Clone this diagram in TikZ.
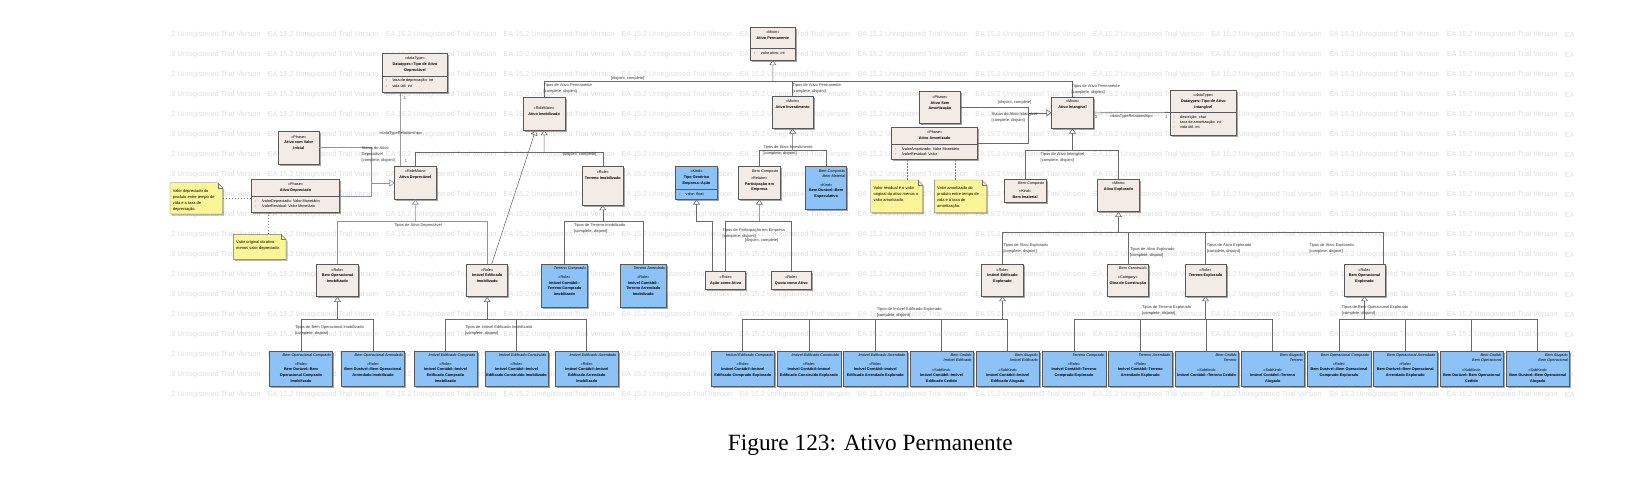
\documentclass[tikz,border=0pt]{standalone}
\usepackage{fontspec}
\setmainfont{Liberation Serif}
\setsansfont{Liberation Sans}
\usepackage{tikz}
\usetikzlibrary{arrows.meta,calc,positioning,fit,shadows}
\definecolor{clsfill}{RGB}{242,235,230}
\definecolor{kindfill}{RGB}{140,194,246}
\definecolor{notefill}{RGB}{250,245,150}
\definecolor{linegray}{RGB}{105,105,105}
\definecolor{lineblue}{RGB}{135,145,190}
\definecolor{wmgray}{RGB}{222,222,222}
\newcommand{\stereo}[1]{{\mdseries«#1»}\\}
\newcommand{\attrline}[1]{\makebox[6.7pt][l]{-}#1}
% box: id, x1, y1, x2, y2, style, text offset, text
\newcommand{\umlbox}[8]{%
  \node[#6, fit={(#2,#3) (#4,#5)}] (#1) {};
  \node[boxtext, below=#7pt of #1.north] (#1-t) {#8};
}
% attribute part: id, x1, x2, y of divider, attributes
\newcommand{\umlattr}[5]{%
  \draw[black!65, line width=0.45pt] (#2,#4) -- (#3,#4);
  \node[attrtext, anchor=north west] (#1-a) at ({#2+3.3},{#4+3}) {#5};
}
\newcommand{\umltag}[2]{%
  \node[tagtext, anchor=north east] (#1-g) at ([shift={(-1.7pt,-2.8pt)}]#1.north east) {#2};
}
% note: id, x1, y1, x2, y2, text
\newcommand{\umlnote}[6]{%
  \filldraw[notebox] (#2,#3) -- ({#4-5},#3) -- (#4,{#3+5}) -- (#4,#5) -- (#2,#5) -- cycle;
  \draw[black!55, line width=0.4pt] ({#4-5},#3) -- ({#4-5},{#3+5}) -- (#4,{#3+5});
  \node[fit={(#2,#3) (#4,#5)}, inner sep=0pt] (#1) {};
  \node[notetext, anchor=north west] (#1-t) at ({#2+2.7},{#3+6.3}) {#6};
}
\tikzset{
  clsbox/.style={draw=black!65, line width=0.45pt, fill=clsfill, inner sep=0pt,
    drop shadow={shadow xshift=1.5pt, shadow yshift=-1.5pt, opacity=0.5, fill=black!70}},
  kindbox/.style={clsbox, fill=kindfill},
  boxtext/.style={font=\sffamily\bfseries\fontsize{3.8}{5.6}\selectfont, align=center, inner sep=0pt},
  attrtext/.style={font=\sffamily\fontsize{3.8}{5.3}\selectfont, align=left, inner sep=0pt},
  tagtext/.style={font=\sffamily\itshape\fontsize{3.8}{5.4}\selectfont, align=right, inner sep=0pt},
  lbl/.style={font=\sffamily\fontsize{4}{6}\selectfont, align=left, inner sep=0pt, text=black!80},
  notetext/.style={font=\sffamily\fontsize{4}{6}\selectfont, align=left, inner sep=0pt},
  notebox/.style={draw=black!55, line width=0.4pt, fill=notefill,
    drop shadow={shadow xshift=1.5pt, shadow yshift=-1.5pt, opacity=0.4, fill=black!70}},
  conn/.style={draw=linegray, line width=0.55pt},
  gen/.style={conn, -{Triangle[open, fill=white, length=5pt, width=7pt]}},
  bconn/.style={conn, draw=lineblue},
  bgen/.style={gen, draw=lineblue},
  notelink/.style={draw=black!50, line width=0.4pt, dash pattern=on 1.5pt off 1.5pt},
  wmark/.style={font=\sffamily\fontsize{7.2}{8}\selectfont, text=wmgray, inner sep=0pt},
  caption/.style={font=\fontsize{23.3}{28}\selectfont, inner sep=0pt}
}
\begin{document}
\begin{tikzpicture}[x=1pt,y=-1pt]
  \useasboundingbox (0,0) rectangle (1652,480);
  % trial version watermark
  \foreach \r in {0,...,18}{
    \node[wmark, anchor=west] (wm-\r-0) at (169.4,{35+20*\r}) {.2 Unregistered Trial Version};
    \foreach \c in {1,...,11}{
      \node[wmark, anchor=west] (wm-\r-\c) at ({149.8+117.9*\c},{35+20*\r}) {EA 15.2 Unregistered Trial Version};
    }
    \node[wmark, anchor=west] (wm-\r-12) at (1564.6,{35+20*\r}) {EA};
  }

  % upper classes
  \umlbox{dtdep}{382.3}{53.3}{447.7}{92.3}{clsbox}{3.9}{\stereo{dataType}Datatypes::Tipo de Ativo\\Depreciável}
  \umlattr{dtdep}{382.3}{447.7}{76}{\attrline{taxa de depreciação: int}\\\attrline{vida útil: int}}
  \umlbox{aperm}{750.7}{27.3}{795}{60}{clsbox}{3.5}{\stereo{Mixin}Ativo Permanente}
  \umlattr{aperm}{750.7}{795}{48.3}{\attrline{valor ativo: int}}
  \umlbox{aimob}{523.3}{97.3}{565}{130}{clsbox}{9.9}{\stereo{RoleMixin}Ativo Imobilizado}
  \umlbox{ainv}{772}{96.7}{813.3}{128.3}{clsbox}{3.1}{\stereo{Mixin}Ativo Investimento}
  \umlbox{aint}{1051.7}{97.3}{1093.3}{128.3}{clsbox}{2.9}{\stereo{Mixin}Ativo Intangível}
  \umlbox{dtint}{1170}{90}{1236.7}{135}{clsbox}{4.2}{\stereo{dataType}Datatypes::Tipo de Ativo\\Intangível}
  \umlattr{dtint}{1170}{1236.7}{112.3}{\attrline{descrição: char}\\\attrline{taxa de amortização: int}\\\attrline{vida útil: int}}
  \umlbox{asa}{919.3}{91}{960.7}{123.3}{clsbox}{4.8}{\stereo{Phase}Ativo Sem\\Amortização}
  \umlbox{aam}{891.7}{127.7}{977.7}{159.3}{clsbox}{3.1}{\stereo{Phase}Ativo Amortizado}
  \umlattr{aam}{891.7}{977.7}{144}{\attrline{/valorAmortizado: Valor Monetário}\\\attrline{/valorResidual: Valor}}
  \umlbox{avi}{278.7}{131}{319}{164}{clsbox}{4.5}{\stereo{Phase}Ativo com Valor\\Inicial}
  \umlbox{adepd}{251.7}{179.3}{339.3}{212.7}{clsbox}{3.9}{\stereo{Phase}Ativo Depreciado}
  \umlattr{adepd}{251.7}{339.3}{196}{\attrline{/valorDepreciado: Valor Monetário}\\\attrline{/valorResidual: Valor Monetário}}
  \umlbox{adep}{394.7}{166.7}{436}{199.3}{clsbox}{3.5}{\stereo{RoleMixin}Ativo Depreciável}
  \umlbox{timob}{582.3}{166.7}{623.3}{205}{clsbox}{4.1}{\stereo{Role}Terreno Imobilizado}
  \umlbox{tge}{675.5}{166.7}{717.5}{199.3}{kindbox}{3.5}{\stereo{Kind}Tipo Genérico\\Empresa::Ação}
  \umlattr{tge}{675.5}{717.5}{189.3}{\attrline{valor: float}}
  \umlbox{part}{738.7}{166.7}{780}{199.3}{clsbox}{10.1}{\stereo{Relator}Participação em\\Empresa}
  \umltag{part}{Bem Composto}
  \umlbox{besp}{805.7}{166.7}{846.7}{209.3}{kindbox}{16.8}{\stereo{Kind}Bem Durável::Bem\\Especulativo}
  \umltag{besp}{Bem Composto\\Bem Material}
  \umlbox{bimat}{1004.3}{179}{1046}{202}{clsbox}{11.2}{\stereo{Kind}Bem Imaterial}
  \umltag{bimat}{Bem Composto}
  \umlbox{aexp}{1097.7}{179}{1139.3}{211.7}{clsbox}{3.2}{\stereo{Mixin}Ativo Explorado}

  % middle row
  \umlbox{bopi}{316.7}{264.3}{358.3}{296.7}{clsbox}{4.2}{\stereo{Role}Bem Operacional\\Imobilizado}
  \umlbox{iedi}{466.7}{264.3}{507.7}{296.7}{clsbox}{4.2}{\stereo{Role}Imóvel Edificado\\Imobilizado}
  \umlbox{tcomp}{541.7}{264.3}{587.3}{307.7}{kindbox}{11.5}{\stereo{Role}Imóvel Contábil::\\Terreno Comprado\\Imobilizado}
  \umltag{tcomp}{Terreno Comprado}
  \umlbox{tarr}{620}{264.3}{666.7}{307.7}{kindbox}{11.5}{\stereo{Role}Imóvel Contábil::\\Terreno Arrendado\\Imobilizado}
  \umltag{tarr}{Terreno Arrendado}
  \umlbox{acao}{705.7}{271.7}{745.7}{289.3}{clsbox}{4.1}{\stereo{Role}Ação como Ativo}
  \umlbox{quota}{771}{271.7}{811.7}{289.3}{clsbox}{4.1}{\stereo{Role}Quota como Ativo}
  \umlbox{iedx}{981.7}{264.3}{1023.3}{296}{clsbox}{4.2}{\stereo{Role}Imóvel Edificado\\Explorado}
  \umlbox{obra}{1107.3}{264.3}{1148.3}{296}{clsbox}{11.5}{\stereo{Category}Obra de Construção}
  \umltag{obra}{Bem Construído}
  \umlbox{texp}{1185}{264.3}{1226}{296}{clsbox}{4.2}{\stereo{Role}Terreno Explorado}
  \umlbox{bopx}{1344}{264.3}{1385}{296}{clsbox}{4.2}{\stereo{Role}Bem Operacional\\Explorado}

  % bottom row, imobilizado
  \umlbox{bopic}{269.5}{351}{332.5}{386.7}{kindbox}{11.5}{\stereo{Role}Bem Durável::Bem\\Operacional Comprado\\Imobilizado}
  \umltag{bopic}{Bem Operacional Comprado}
  \umlbox{bopia}{341.5}{351}{404.5}{386.7}{kindbox}{11.5}{\stereo{Role}Bem Durável::Bem Operacional\\Arrendado Imobilizado}
  \umltag{bopia}{Bem Operacional Arrendado}
  \umlbox{iedic}{414}{351}{477}{386.7}{kindbox}{11.5}{\stereo{Role}Imóvel Contábil::Imóvel\\Edificado Comprado\\Imobilizado}
  \umltag{iedic}{Imóvel Edificado Comprado}
  \umlbox{iedin}{485}{351}{548}{386.7}{kindbox}{11.5}{\stereo{Role}Imóvel Contábil::Imóvel\\Edificado Construído Imobilizado}
  \umltag{iedin}{Imóvel Edificado Construído}
  \umlbox{iedia}{555.5}{351}{618}{386.7}{kindbox}{11.5}{\stereo{Role}Imóvel Contábil::Imóvel\\Edificado Arrendado\\Imobilizado}
  \umltag{iedia}{Imóvel Edificado Arrendado}

  % bottom row, explorado
  \umlbox{iedxc}{711}{351}{774.5}{386.7}{kindbox}{11.5}{\stereo{Role}Imóvel Contábil::Imóvel\\Edificado Comprado Explorado}
  \umltag{iedxc}{Imóvel Edificado Comprado}
  \umlbox{iedxn}{777.25}{351}{840.75}{386.7}{kindbox}{11.5}{\stereo{Role}Imóvel Contábil::Imóvel\\Edificado Construído Explorado}
  \umltag{iedxn}{Imóvel Edificado Construído}
  \umlbox{iedxa}{843.5}{351}{907}{386.7}{kindbox}{11.5}{\stereo{Role}Imóvel Contábil::Imóvel\\Edificado Arrendado Explorado}
  \umltag{iedxa}{Imóvel Edificado Arrendado}
  \umlbox{iedxce}{909.75}{351}{973.25}{386.7}{kindbox}{17.5}{\stereo{SubKind}Imóvel Contábil::Imóvel\\Edificado Cedido}
  \umltag{iedxce}{Bem Cedido\\Imóvel Edificado}
  \umlbox{iedxal}{976}{351}{1039.5}{386.7}{kindbox}{17.5}{\stereo{SubKind}Imóvel Contábil::Imóvel\\Edificado Alugado}
  \umltag{iedxal}{Bem Alugado\\Imóvel Edificado}
  \umlbox{texc}{1042.25}{351}{1105.75}{386.7}{kindbox}{11.5}{\stereo{Role}Imóvel Contábil::Terreno\\Comprado Explorado}
  \umltag{texc}{Terreno Comprado}
  \umlbox{texa}{1108.5}{351}{1172}{386.7}{kindbox}{11.5}{\stereo{Role}Imóvel Contábil::Terreno\\Arrendado Explorado}
  \umltag{texa}{Terreno Arrendado}
  \umlbox{texce}{1174.75}{351}{1238.25}{386.7}{kindbox}{17.5}{\stereo{SubKind}Imóvel Contábil::Terreno Cedido}
  \umltag{texce}{Bem Cedido\\Terreno}
  \umlbox{texal}{1241}{351}{1304.5}{386.7}{kindbox}{17.5}{\stereo{SubKind}Imóvel Contábil::Terreno\\Alugado}
  \umltag{texal}{Bem Alugado\\Terreno}
  \umlbox{bopxc}{1307.25}{351}{1370.75}{386.7}{kindbox}{11.5}{\stereo{Role}Bem Durável::Bem Operacional\\Comprado Explorado}
  \umltag{bopxc}{Bem Operacional Comprado}
  \umlbox{bopxa}{1373.5}{351}{1437}{386.7}{kindbox}{11.5}{\stereo{Role}Bem Durável::Bem Operacional\\Arrendado Explorado}
  \umltag{bopxa}{Bem Operacional Arrendado}
  \umlbox{bopxce}{1439.75}{351}{1503.25}{386.7}{kindbox}{17.5}{\stereo{SubKind}Bem Durável::Bem Operacional\\Cedido}
  \umltag{bopxce}{Bem Cedido\\Bem Operacional}
  \umlbox{bopxal}{1506}{351}{1569.5}{386.7}{kindbox}{17.5}{\stereo{SubKind}Bem Durável::Bem Operacional\\Alugado}
  \umltag{bopxal}{Bem Alugado\\Bem Operacional}

  % notes
  \umlnote{nd1}{170}{182.7}{222.7}{214}{Valor depreciado do\\produto entre tempo de\\vida e a taxa de\\depreciação.}
  \umlnote{nd2}{233.3}{234.3}{286}{259.3}{Valor original do ativo\\menos valor depreciado.}
  \umlnote{na1}{870.7}{180}{922.7}{212.7}{Valor residual é o valor\\original do ativo menos o\\valor amortizado.}
  \umlnote{na2}{934.3}{180}{986.7}{212.7}{Valor amortizado do\\produto entre tempo de\\vida e a taxa de\\amortização.}
  \draw[notelink] (nd1.east) -- (nd1.east -| adepd.west);
  \coordinate (nd2top) at ([xshift=8.7pt]nd2.north);
  \draw[notelink] (nd2top) -- (nd2top |- adepd.south);
  \coordinate (na1top) at ([xshift=10pt]na1.north);
  \draw[notelink] (na1top) -- (na1top |- aam.south);
  \coordinate (na2top) at ([xshift=-5.5pt]na2.north);
  \draw[notelink] (na2top) -- (na2top |- aam.south);

  % generalization sets
  \coordinate (apj) at (772.85,81.7);
  \draw[conn] (aimob.north) |- (apj);
  \draw[conn] (aint.north) |- (apj);
  \draw[conn] (ainv.north) |- (apj);
  \draw[gen] (apj) -- (aperm.south);

  \coordinate (aimj) at (544.2,152.7);
  \draw[conn] (adep.north) |- (aimj);
  \draw[conn] (timob.north) |- (aimj);
  \draw[gen] (aimj) -- (aimob.south);
  \draw[gen] ([xshift=4.5pt]iedi.north) -- ([xshift=-8.5pt]aimob.south);

  \coordinate (aivj) at (792.7,150.7);
  \draw[conn] (part.north) |- (aivj);
  \draw[conn] (besp.north) |- (aivj);
  \draw[gen] (aivj) -- (ainv.south);

  \coordinate (aitj) at (1072.5,150.7);
  \draw[conn] (bimat.north) |- (aitj);
  \draw[conn] (aexp.north) |- (aitj);
  \draw[gen] (aitj) -- (aint.south);

  \coordinate (sij) at (1028.3,112.8);
  \draw[conn] (asa.east) -| (sij);
  \draw[conn] (aam.east) -| (sij);
  \draw[gen] (sij) -- (aint.west);
  \draw[conn] (aint.east) -- (dtint.west);
  \draw[conn] ([xshift=-14.7pt]dtdep.south) -- ([xshift=-14.95pt]adep.north);

  \coordinate (sdj) at (371.7,183);
  \draw[bconn] (avi.east) -| (sdj);
  \draw[bconn] (adepd.east) -| (sdj);
  \draw[bgen] (sdj) -- (adep.west);

  \coordinate (adpj) at (415.35,221.7);
  \draw[bconn] (bopi.north) |- (adpj);
  \draw[bconn] (iedi.north) |- (adpj);
  \draw[bgen] (adpj) -- (adep.south);

  \coordinate (timj) at (602.8,221.7);
  \draw[conn] (tcomp.north) |- (timj);
  \draw[conn] (tarr.north) |- (timj);
  \draw[gen] (timj) -- (timob.south);

  \coordinate (tgj) at (696.5,221.7);
  \draw[gen] ([xshift=-13pt]acao.north) |- (tgj) -- (tge.south);
  \coordinate (pej) at (759.35,221.7);
  \draw[conn] (acao.north) |- (pej);
  \draw[conn] (quota.north) |- (pej);
  \draw[gen] (pej) -- (part.south);

  \coordinate (aexj) at (1118.5,232.7);
  \draw[conn] (iedx.north) |- (aexj);
  \draw[conn] (obra.north) |- (aexj);
  \draw[conn] (texp.north) |- (aexj);
  \draw[conn] ([xshift=-1.7pt]bopx.north east) |- (aexj);
  \draw[gen] (aexj) -- (aexp.south);

  \coordinate (bopij) at (337.5,319.3);
  \draw[conn] (bopic.north) |- (bopij);
  \draw[conn] (bopia.north) |- (bopij);
  \draw[gen] (bopij) -- (bopi.south);
  \coordinate (iedij) at (487.2,319.3);
  \draw[conn] (iedic.north) |- (iedij);
  \draw[conn] (iedin.north) |- (iedij);
  \draw[conn] (iedia.north) |- (iedij);
  \draw[gen] (iedij) -- (iedi.south);

  \coordinate (iedxj) at (1002.5,319.3);
  \foreach \k in {iedxc,iedxn,iedxa,iedxce,iedxal}
    \draw[conn] (\k.north) |- (iedxj);
  \draw[gen] (iedxj) -- (iedx.south);
  \coordinate (texj) at (1205.5,319.3);
  \foreach \k in {texc,texa,texce,texal}
    \draw[conn] (\k.north) |- (texj);
  \draw[gen] (texj) -- (texp.south);
  \coordinate (bopxj) at (1364.5,319.3);
  \foreach \k in {bopxc,bopxa,bopxce,bopxal}
    \draw[conn] (\k.north) |- (bopxj);
  \draw[gen] (bopxj) -- (bopx.south);

  % connector labels
  \node[lbl, anchor=north west] (l-aimob) at (543.5,83.5) {Tipos de Ativo Permanente\\{}[complete, disjoint]};
  \node[lbl, anchor=north west] (l-apdc) at (611,76.3) {[disjoint, complete]};
  \node[lbl, anchor=north west] (l-ainv) at (792.5,83.2) {Tipos de Ativo Permanente\\{}[complete, disjoint]};
  \node[lbl, anchor=north west] (l-aint) at (1071.5,84.8) {Tipos de Ativo Permanente\\{}[complete, disjoint]};
  \node[lbl, anchor=north west] (l-sidc) at (998,100) {[disjoint, complete]};
  \node[lbl, anchor=north west] (l-si) at (991.5,112.5) {Status do Ativo Intangível\\{}[complete, disjoint]};
  \node[lbl] (l-dti) at (1131.3,116.7) {«dataTypeRelationship»};
  \node[lbl] (l-dti1) at (1096.5,117.3) {2};
  \node[lbl] (l-dti2) at (1166.5,116.7) {1};
  \node[lbl, anchor=north west] (l-aitp) at (1040.5,152.8) {Tipos de Ativo Intangível\\{}[complete, disjoint]};
  \node[lbl] (l-dtd) at (400.7,133.3) {«dataTypeRelationship»};
  \node[lbl] (l-dtd1) at (405,97.7) {1};
  \node[lbl] (l-dtd2) at (406,161) {1};
  \node[lbl, anchor=north west] (l-sd) at (361.5,146.2) {Status do Ativo\\Depreciável\\{}[complete, disjoint]};
  \node[lbl, anchor=north west] (l-aimdc) at (563,152.5) {[disjoint, complete]};
  \node[lbl] (l-adp) at (418,225) {Tipos de Ativo Depreciável};
  \node[lbl, anchor=north west] (l-tim) at (574,223.2) {Tipos de Terreno Imobilizado\\{}[complete, disjoint]};
  \node[lbl, anchor=north west] (l-pe) at (722.5,228.2) {Tipos de Participação em Empresa\\{}[complete, disjoint]};
  \node[lbl, anchor=north west] (l-pedc) at (745,238.5) {[disjoint, complete]};
  \node[lbl, anchor=north west] (l-aiv) at (763.3,145.2) {Tipos de Ativo Investimento\\{}[complete, disjoint]};
  \node[lbl, anchor=north west] (l-aex1) at (1003.3,243.5) {Tipos de Ativo Explorado\\{}[complete, disjoint]};
  \node[lbl, anchor=north west] (l-aex2) at (1130,247.5) {Tipos de Ativo Explorado\\{}[complete, disjoint]};
  \node[lbl, anchor=north west] (l-aex3) at (1206.7,243.5) {Tipos de Ativo Explorado\\{}[complete, disjoint]};
  \node[lbl, anchor=north west] (l-aex4) at (1309.3,243.5) {Tipos de Ativo Explorado\\{}[complete, disjoint]};
  \node[lbl, anchor=north west] (l-bopi) at (295,325.8) {Tipos de Bem Operacional Imobilizado\\{}[complete, disjoint]};
  \node[lbl, anchor=north west] (l-iedi) at (465,325.8) {Tipos de Imóvel Edificado Imobilizado\\{}[complete, disjoint]};
  \node[lbl, anchor=north west] (l-iedx) at (876.7,307) {Tipos de Imóvel Edificado Explorado\\{}[complete, disjoint]};
  \node[lbl, anchor=north west] (l-texp) at (1142,305.8) {Tipos de Terreno Explorado\\{}[complete, disjoint]};
  \node[lbl, anchor=north west] (l-bopx) at (1341.7,305.8) {Tipos de Bem Operacional Explorado\\{}[complete, disjoint]};

  % caption
  \node[caption] (cap) at (870.3,445.6) {Figure 123: Ativo Permanente};
\end{tikzpicture}
\end{document}
